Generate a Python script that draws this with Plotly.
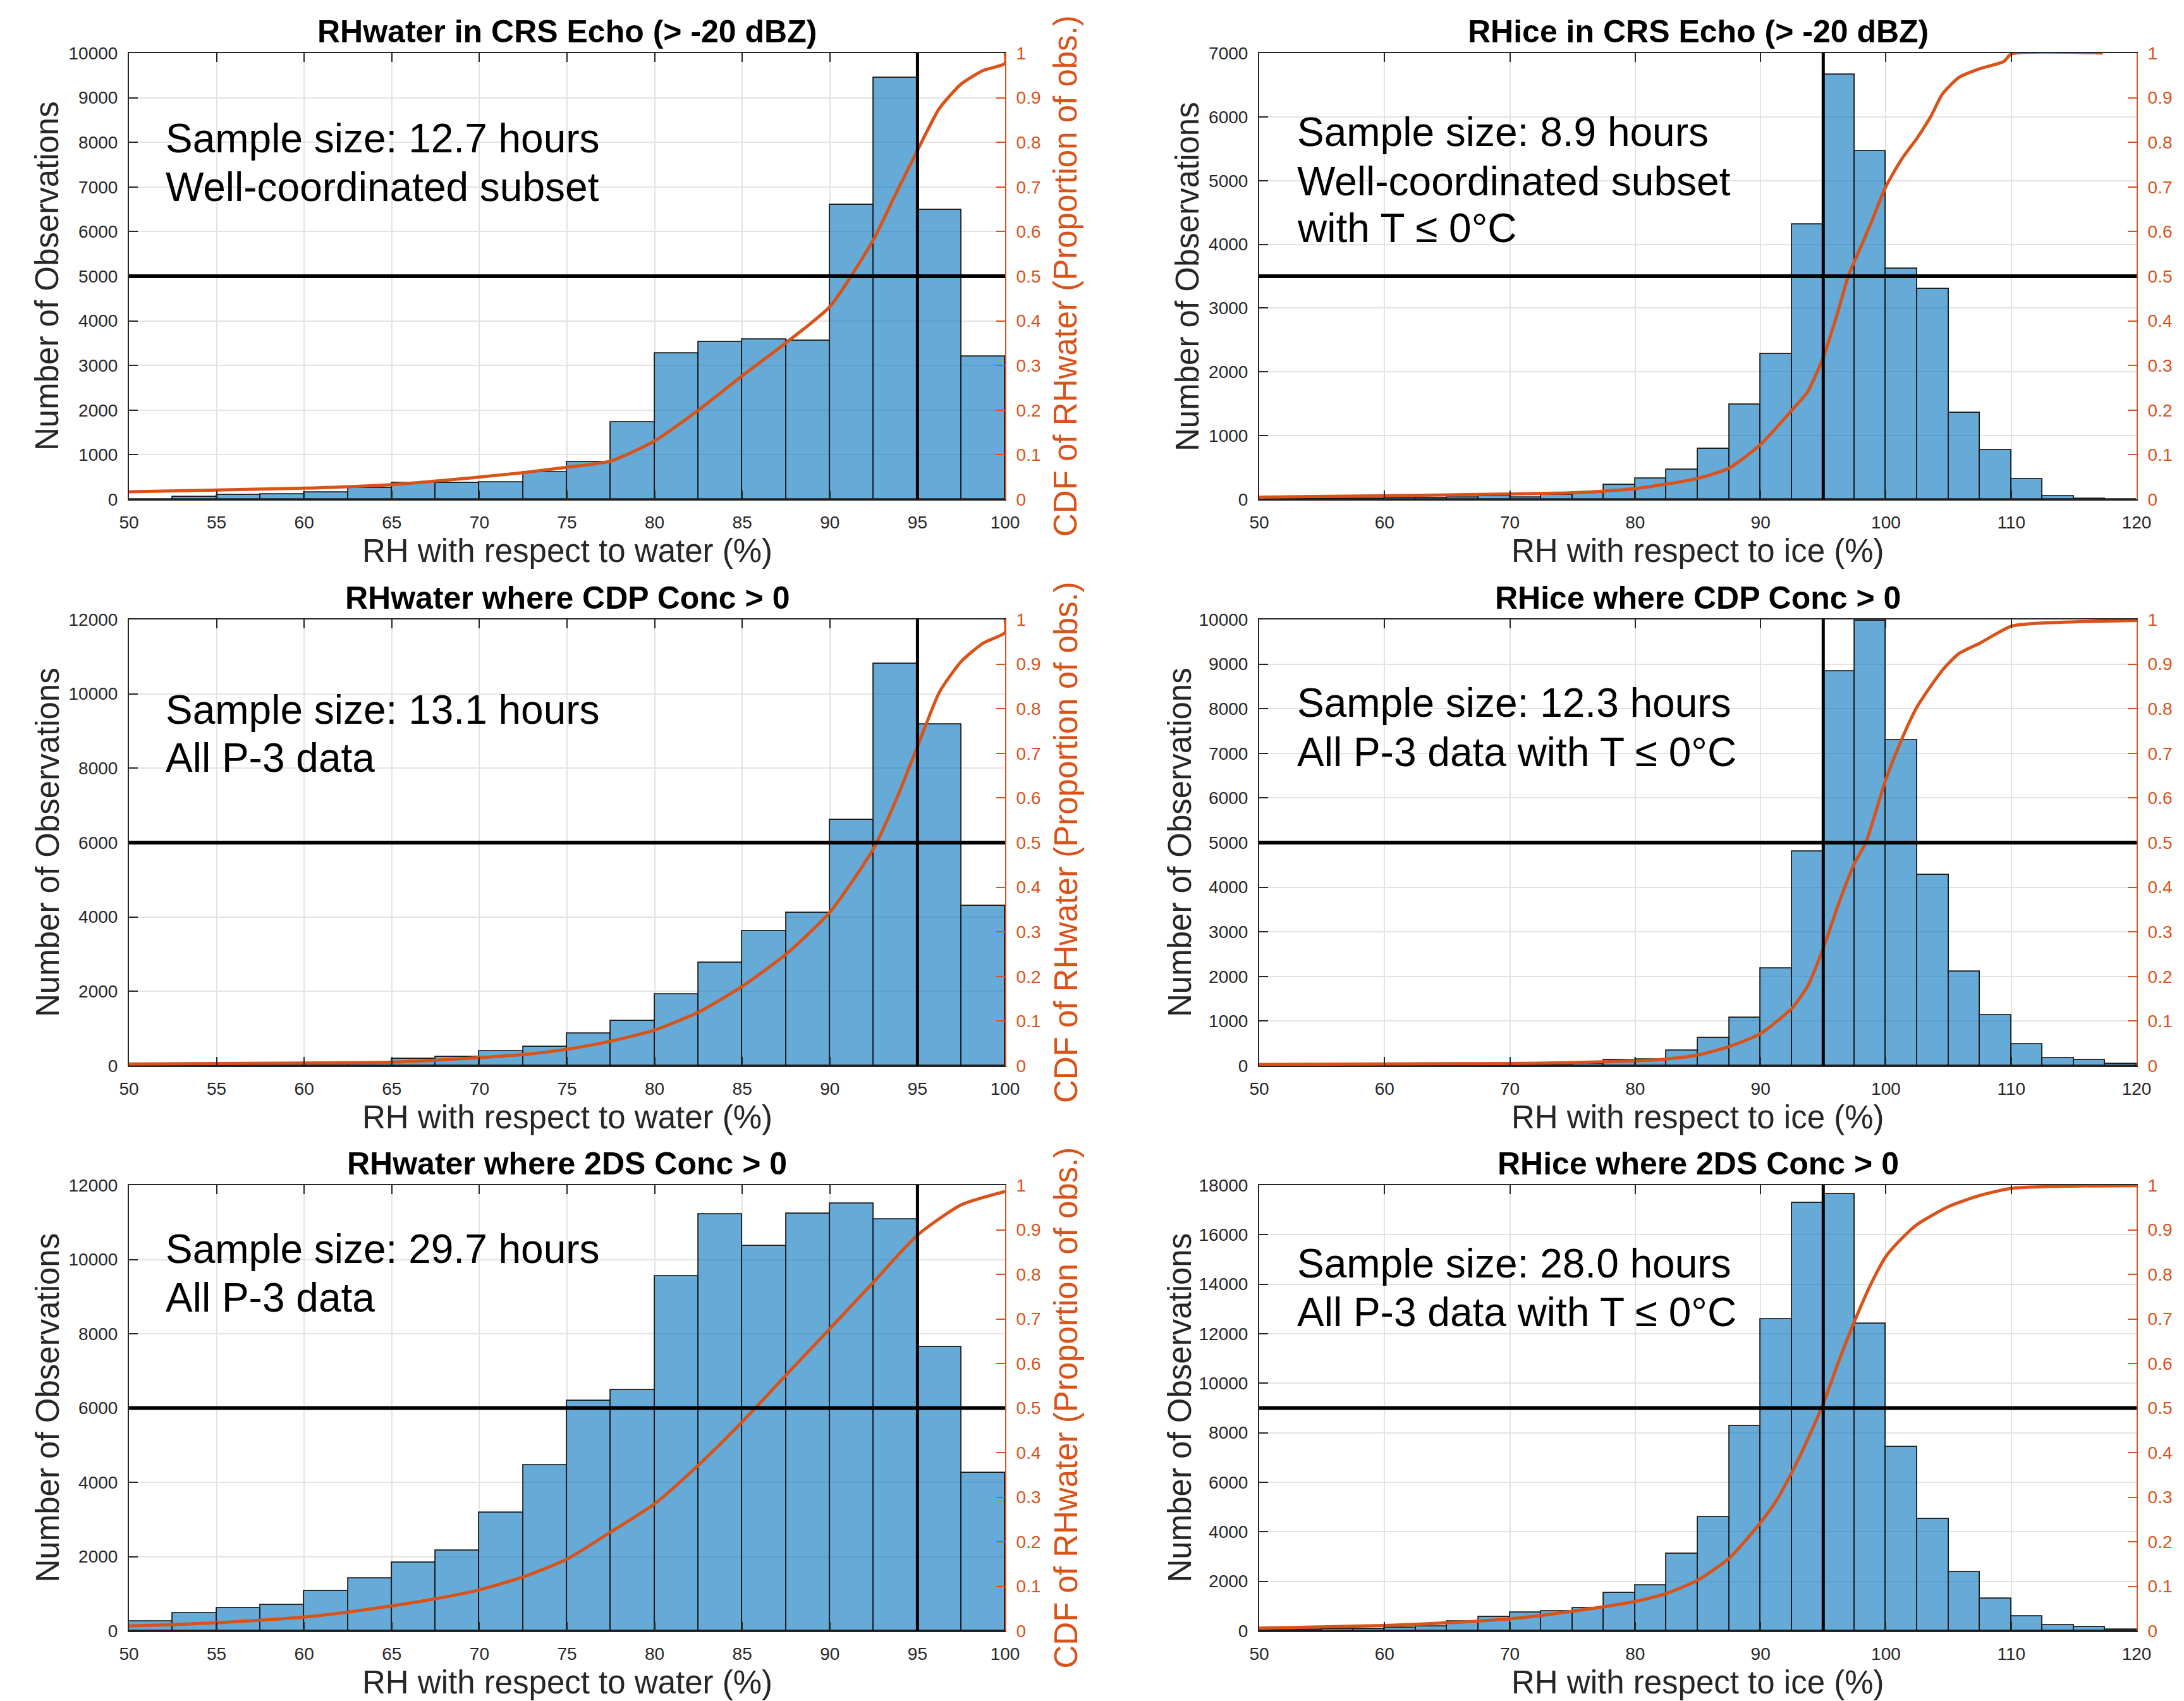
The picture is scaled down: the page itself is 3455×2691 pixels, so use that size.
import plotly.graph_objects as go

W, H = 3455, 2691

# ---------------- data ----------------
water_bin_centers = [51.25, 53.75, 56.25, 58.75, 61.25, 63.75, 66.25, 68.75, 71.25, 73.75,
                     76.25, 78.75, 81.25, 83.75, 86.25, 88.75, 91.25, 93.75, 96.25, 98.75]
ice_bin_centers = [51.25, 53.75, 56.25, 58.75, 61.25, 63.75, 66.25, 68.75, 71.25, 73.75,
                   76.25, 78.75, 81.25, 83.75, 86.25, 88.75, 91.25, 93.75, 96.25, 98.75,
                   101.25, 103.75, 106.25, 108.75, 111.25, 113.75, 116.25, 118.75]

# counts per 2.5 % bin
crs_water_counts = [0, 57, 106, 110, 155, 260, 375, 365, 380, 610, 840, 1725, 3270, 3530,
                    3580, 3550, 6600, 9450, 6490, 3200]
crs_ice_counts = [6, 8, 10, 12, 17, 23, 34, 51, 34, 68, 100, 228, 330, 467, 792, 1492, 2278,
                  4311, 6663, 5467, 3616, 3297, 1355, 769, 319, 46, 11, 0]
cdp_water_counts = [10, 15, 20, 30, 50, 80, 186, 244, 391, 518, 860, 1212, 1926, 2766, 3617,
                    4115, 6608, 10811, 9179, 4301]
cdp_ice_counts = [3, 3, 4, 5, 6, 8, 10, 12, 15, 20, 40, 122, 147, 334, 619, 1075, 2182, 4796,
                  8835, 9967, 7296, 4283, 2109, 1132, 480, 171, 122, 41]
tds_water_counts = [251, 474, 619, 706, 1064, 1412, 1837, 2157, 3182, 4458, 6199, 6480, 9545,
                    11218, 10358, 11228, 11509, 11083, 7640, 4255]
tds_ice_counts = [44, 58, 73, 87, 130, 174, 377, 566, 740, 783, 914, 1523, 1828, 3119, 4598,
                  8268, 12576, 17276, 17653, 12417, 7427, 4511, 2379, 1305, 595, 218, 145, 58]

# CDF curves
crs_water_cdf_x = [50, 55, 60, 65, 70, 72.5, 75, 77.5, 80, 82.5, 85, 87.5, 90, 92.5, 93.75, 95,
                   96.25, 97.5, 98.75, 100, 100]
crs_water_cdf_y = [0.017, 0.021, 0.025, 0.033, 0.050, 0.060, 0.072, 0.086, 0.131, 0.200, 0.277,
                   0.351, 0.432, 0.583, 0.684, 0.782, 0.876, 0.931, 0.961, 0.977, 1.0]
crs_ice_cdf_x = [50, 60, 70, 75, 80, 85, 87.5, 90, 92.5, 93.75, 95, 96.25, 97, 97.5, 98.75, 100,
                 101.25, 102.5, 103.6, 104.5, 105.8, 107.5, 109.4, 110, 117.3]
crs_ice_cdf_y = [0.005, 0.008, 0.012, 0.015, 0.024, 0.047, 0.070, 0.123, 0.200, 0.241, 0.318,
                 0.428, 0.501, 0.534, 0.615, 0.701, 0.762, 0.810, 0.859, 0.908, 0.945, 0.965,
                 0.981, 0.998, 1.0]
cdp_water_cdf_x = [50, 60, 65, 70, 72.5, 75, 77.5, 80, 82.5, 85, 87.5, 90, 92.5, 93.75, 95,
                   96.25, 97.5, 98.75, 100, 100]
cdp_water_cdf_y = [0.004, 0.006, 0.008, 0.018, 0.025, 0.037, 0.055, 0.080, 0.120, 0.178, 0.250,
                   0.344, 0.487, 0.593, 0.715, 0.837, 0.906, 0.947, 0.971, 1.0]
cdp_ice_cdf_x = [50, 70, 75, 80, 82.5, 85, 87.5, 90, 92.5, 93.75, 95, 96.25, 97.5, 98.4, 100,
                 101.25, 102.5, 104.5, 105.8, 107.5, 110, 112.4, 120]
cdp_ice_cdf_y = [0.003, 0.005, 0.007, 0.011, 0.015, 0.024, 0.043, 0.072, 0.129, 0.178, 0.263,
                 0.365, 0.454, 0.500, 0.642, 0.731, 0.805, 0.886, 0.923, 0.947, 0.985, 0.992,
                 0.998]
tds_water_cdf_x = [50, 52.5, 55, 57.5, 60, 62.5, 65, 67.5, 70, 72.5, 75, 77.5, 80, 82.5, 85,
                   87.5, 90, 92.5, 95, 97.5, 100]
tds_water_cdf_y = [0.011, 0.014, 0.018, 0.024, 0.031, 0.042, 0.056, 0.072, 0.092, 0.121, 0.161,
                   0.222, 0.285, 0.372, 0.469, 0.574, 0.678, 0.783, 0.888, 0.956, 0.986]
tds_ice_cdf_x = [50, 60, 65, 70, 75, 80, 82.5, 85, 87.5, 90, 91.25, 92.5, 93.75, 95, 96.25, 97.5,
                 98.75, 100, 101.25, 102.5, 105, 107.5, 110, 115, 120]
tds_ice_cdf_y = [0.006, 0.012, 0.018, 0.027, 0.044, 0.066, 0.084, 0.114, 0.163, 0.243, 0.292,
                 0.356, 0.429, 0.510, 0.606, 0.695, 0.775, 0.840, 0.880, 0.912, 0.952, 0.977,
                 0.993, 0.998, 0.999]

water_xticks = [50, 55, 60, 65, 70, 75, 80, 85, 90, 95, 100]
ice_xticks = [50, 60, 70, 80, 90, 100, 110, 120]
cdf_ticks = [0, 0.1, 0.2, 0.3, 0.4, 0.5, 0.6, 0.7, 0.8, 0.9, 1]
cdf_ticklabels = ["0", "0.1", "0.2", "0.3", "0.4", "0.5", "0.6", "0.7", "0.8", "0.9", "1"]
yticks_10000 = [0, 1000, 2000, 3000, 4000, 5000, 6000, 7000, 8000, 9000, 10000]
yticks_7000 = [0, 1000, 2000, 3000, 4000, 5000, 6000, 7000]
yticks_12000 = [0, 2000, 4000, 6000, 8000, 10000, 12000]
yticks_18000 = [0, 2000, 4000, 6000, 8000, 10000, 12000, 14000, 16000, 18000]

titles = ["RHwater in CRS Echo (> -20 dBZ)", "RHice in CRS Echo (> -20 dBZ)",
          "RHwater where CDP Conc > 0", "RHice where CDP Conc > 0",
          "RHwater where 2DS Conc > 0", "RHice where 2DS Conc > 0"]
notes = [["Sample size: 12.7 hours", "Well-coordinated subset"],
         ["Sample size: 8.9 hours", "Well-coordinated subset", "with T \u2264 0\u00b0C"],
         ["Sample size: 13.1 hours", "All P-3 data"],
         ["Sample size: 12.3 hours", "All P-3 data with T \u2264 0\u00b0C"],
         ["Sample size: 29.7 hours", "All P-3 data"],
         ["Sample size: 28.0 hours", "All P-3 data with T \u2264 0\u00b0C"]]
xlabel_water = "RH with respect to water (%)"
xlabel_ice = "RH with respect to ice (%)"
ylabel_left = "Number of Observations"
ylabel_right = "CDF of RHwater (Proportion of obs.)"

# ---------------- styling / layout ----------------
BLUE = "rgba(0,114,189,0.6)"
ORANGE = "#D95319"
AX = "#262626"
GRID = "#e3e3e3"
FONT = "Liberation Sans, Arial, sans-serif"

cols = [(204, 1590), (1992, 3380)]
rows = [(84, 790), (980, 1686), (1875, 2580)]

def px(x):
    return x / W

def py(y):
    return 1 - y / H

panels = [
    dict(bins=water_bin_centers, counts=crs_water_counts, cx=crs_water_cdf_x, cy=crs_water_cdf_y,
         xr=[50, 100], xt=water_xticks, yt=yticks_10000, xl=xlabel_water,
         note_y=[219, 296], ylab_x=75),
    dict(bins=ice_bin_centers, counts=crs_ice_counts, cx=crs_ice_cdf_x, cy=crs_ice_cdf_y,
         xr=[50, 120], xt=ice_xticks, yt=yticks_7000, xl=xlabel_ice,
         note_y=[209, 287, 361], ylab_x=1879),
    dict(bins=water_bin_centers, counts=cdp_water_counts, cx=cdp_water_cdf_x, cy=cdp_water_cdf_y,
         xr=[50, 100], xt=water_xticks, yt=yticks_12000, xl=xlabel_water,
         note_y=[1123, 1199], ylab_x=75),
    dict(bins=ice_bin_centers, counts=cdp_ice_counts, cx=cdp_ice_cdf_x, cy=cdp_ice_cdf_y,
         xr=[50, 120], xt=ice_xticks, yt=yticks_10000, xl=xlabel_ice,
         note_y=[1112, 1190], ylab_x=1866),
    dict(bins=water_bin_centers, counts=tds_water_counts, cx=tds_water_cdf_x, cy=tds_water_cdf_y,
         xr=[50, 100], xt=water_xticks, yt=yticks_12000, xl=xlabel_water,
         note_y=[1976, 2053], ylab_x=75),
    dict(bins=ice_bin_centers, counts=tds_ice_counts, cx=tds_ice_cdf_x, cy=tds_ice_cdf_y,
         xr=[50, 120], xt=ice_xticks, yt=yticks_18000, xl=xlabel_ice,
         note_y=[1999, 2076], ylab_x=1866),
]

fig = go.Figure()
layout = dict(width=W, height=H, margin=dict(l=0, r=0, t=0, b=0, autoexpand=False),
              showlegend=False, paper_bgcolor="white", plot_bgcolor="white",
              font=dict(family=FONT, color=AX, size=28))
annotations = []
shapes = []

for i, p in enumerate(panels):
    n = i + 1
    r, c = divmod(i, 2)
    x0, x1 = cols[c]
    y0, y1 = rows[r]
    xa = "x" if n == 1 else f"x{n}"
    ya = "y" if n == 1 else f"y{n}"
    ya2 = f"y{n + 6}"
    xkey = "xaxis" if n == 1 else f"xaxis{n}"
    ykey = "yaxis" if n == 1 else f"yaxis{n}"
    y2key = f"yaxis{n + 6}"

    fig.add_trace(go.Bar(x=p["bins"], y=p["counts"], width=2.5, xaxis=xa, yaxis=ya,
                         marker=dict(color=BLUE, line=dict(color="#1a1a1a", width=1.8)),
                         hoverinfo="x+y"))
    fig.add_trace(go.Scatter(x=p["cx"], y=p["cy"], mode="lines", xaxis=xa, yaxis=ya2,
                             line=dict(color=ORANGE, width=5, shape="spline", smoothing=0.6)))

    layout[xkey] = dict(domain=[px(x0), px(x1)], anchor=ya, range=p["xr"], tickvals=p["xt"],
                        ticktext=[str(v) for v in p["xt"]],
                        ticks="inside", ticklen=14, tickwidth=2, tickcolor=AX,
                        showline=True, linecolor=AX, linewidth=2, mirror="ticks",
                        showgrid=True, gridcolor=GRID, gridwidth=2, zeroline=False,
                        automargin=False,
                        tickfont=dict(size=28, color=AX), ticklabelstandoff=10)
    layout[ykey] = dict(domain=[py(y1), py(y0)], anchor=xa, range=[0, p["yt"][-1]],
                        tickvals=p["yt"], ticktext=[str(v) for v in p["yt"]],
                        ticks="inside", ticklen=14, tickwidth=2, tickcolor=AX,
                        showline=True, linecolor=AX, linewidth=2,
                        showgrid=True, gridcolor=GRID, gridwidth=2, zeroline=False,
                        automargin=False,
                        tickfont=dict(size=28, color=AX), ticklabelstandoff=10)
    layout[y2key] = dict(overlaying=ya, anchor=xa, side="right", range=[0, 1],
                         tickvals=cdf_ticks, ticktext=cdf_ticklabels,
                         ticks="inside", ticklen=14, tickwidth=2, tickcolor=ORANGE,
                         showline=True, linecolor=ORANGE, linewidth=2,
                         showgrid=False, zeroline=False, automargin=False,
                         tickfont=dict(size=28, color=ORANGE), ticklabelstandoff=10)

    # reference lines: median (0.5 of CDF) and 95 %
    shapes.append(dict(type="line", xref=f"{xa} domain", yref=ya2, x0=0, x1=1, y0=0.5, y1=0.5,
                       line=dict(color="black", width=6)))
    shapes.append(dict(type="line", xref=xa, yref=f"{ya} domain", x0=95, x1=95, y0=0, y1=1,
                       line=dict(color="black", width=5)))

    # title
    annotations.append(dict(text=f"<b>{titles[i]}</b>", x=px((x0 + x1) / 2), y=py(y0 - 34),
                            xref="paper", yref="paper", showarrow=False,
                            xanchor="center", yanchor="middle",
                            font=dict(size=50, color="black", family=FONT)))
    # x label
    annotations.append(dict(text=p["xl"], x=px((x0 + x1) / 2), y=py(y1 + 81),
                            xref="paper", yref="paper", showarrow=False,
                            xanchor="center", yanchor="middle",
                            font=dict(size=51, color=AX, family=FONT)))
    # left y label
    annotations.append(dict(text=ylabel_left, x=px(p["ylab_x"]), y=py((y0 + y1) / 2),
                            xref="paper", yref="paper", showarrow=False, textangle=-90,
                            xanchor="center", yanchor="middle",
                            font=dict(size=51, color=AX, family=FONT)))
    # right y label (for the right column it runs past the page edge, as in the original)
    annotations.append(dict(text=ylabel_right, x=px(x1 + 96), y=py((y0 + y1) / 2),
                            xref="paper", yref="paper", showarrow=False, textangle=-90,
                            xanchor="center", yanchor="middle",
                            font=dict(size=51, color=ORANGE, family=FONT)))
    # notes
    for line, ly in zip(notes[i], p["note_y"]):
        annotations.append(dict(text=line, x=px(x0 + 56 if c == 0 else x0 + 58), y=py(ly),
                                xref="paper", yref="paper", showarrow=False,
                                xanchor="left", yanchor="middle",
                                font=dict(size=64, color="black", family=FONT)))

layout["annotations"] = annotations
layout["shapes"] = shapes
layout["bargap"] = 0
fig.update_layout(**layout)
fig.write_html("out.html", config={"displayModeBar": False},
               post_script="document.body.style.margin='0';document.body.style.overflow='hidden';")
